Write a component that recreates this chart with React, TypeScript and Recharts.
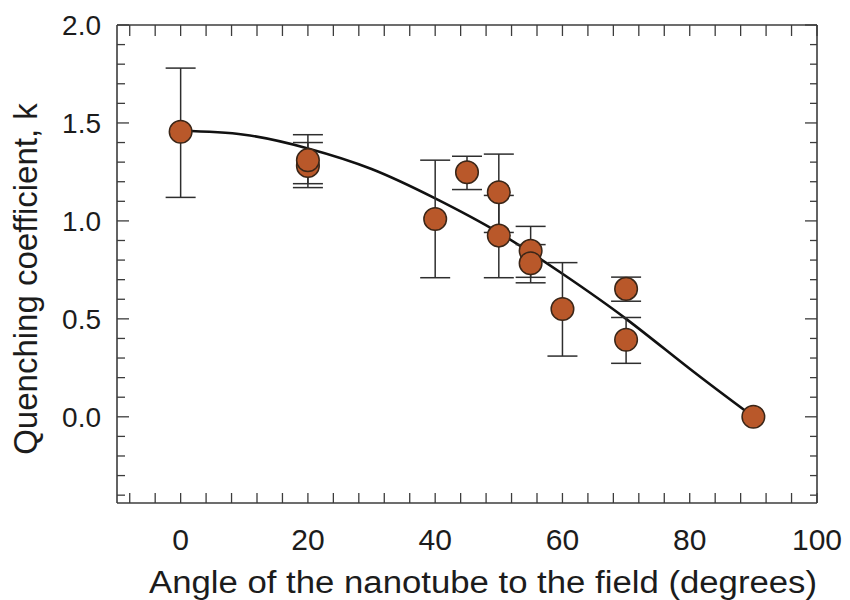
import { ComposedChart, Line, Scatter, ErrorBar, XAxis, YAxis } from "recharts";

// measured points (angle in degrees, quenching coefficient k, error bar extents)
const angles = [0, 20, 20, 40, 45, 50, 50, 55, 55, 60, 70, 70, 90];
const kValues = [1.455, 1.28, 1.31, 1.01, 1.248, 0.925, 1.146, 0.847, 0.784, 0.55, 0.653, 0.393, 0.0];
const errLow = [0.335, 0.11, 0.12, 0.3, 0.088, 0.215, 0.205, 0.135, 0.1, 0.24, 0.063, 0.12, 0];
const errHigh = [0.325, 0.12, 0.13, 0.3, 0.082, 0.205, 0.195, 0.125, 0.095, 0.237, 0.06, 0.114, 0];
// overlapping points that were plotted last (sit on top of their neighbour)
const onTop = [false, false, true, false, false, false, true, false, true, false, false, false, false];

// fitted curve
const fitAngles = [0, 10, 20, 30, 40, 50, 60, 70, 80, 90];
const fitK = [1.46, 1.44, 1.37, 1.265, 1.115, 0.94, 0.73, 0.5, 0.245, 0];

const xTicks = [-8, -4, 0, 4, 8, 12, 16, 20, 24, 28, 32, 36, 40, 44, 48, 52, 56, 60, 64, 68, 72, 76, 80, 84, 88, 92, 96, 100];
const xLabels = [0, 20, 40, 60, 80, 100];
const yTicks = [-0.4, -0.3, -0.2, -0.1, 0, 0.1, 0.2, 0.3, 0.4, 0.5, 0.6, 0.7, 0.8, 0.9, 1.0, 1.1, 1.2, 1.3, 1.4, 1.5, 1.6, 1.7, 1.8, 1.9, 2.0];
const yLabels = [0, 0.5, 1.0, 1.5, 2.0];

const FONT = '"Liberation Sans", Arial, Helvetica, sans-serif';
const INK = "#1c1c1c";
const FRAME = "#3c3c3c";
const DOT_FILL = "#b9582a";
const DOT_EDGE = "#3a2618";

const points = angles.map((a, i) => ({
    angle: a,
    k: kValues[i],
    err: errHigh[i] > 0 ? [errLow[i], errHigh[i]] : undefined,
    top: onTop[i],
}));
const backPoints = points.filter((p) => !p.top);
const frontPoints = points.filter((p) => p.top);
const fit = fitAngles.map((a, i) => ({ angle: a, k: fitK[i] }));

const isMajorY = (v: number) => yLabels.some((l) => Math.abs(l - v) < 1e-6);

function BottomTick({ x, y, payload }: any) {
    const v = payload.value;
    return (
        <g>
            <line x1={x} y1={y} x2={x} y2={y - 10} stroke={FRAME} strokeWidth={1.3} />
            {xLabels.includes(v) && (
                <text x={x} y={y + 47} textAnchor="middle" fontSize={30} fontFamily={FONT} fill={INK}>
                    {v}
                </text>
            )}
        </g>
    );
}

function TopTick({ x, y }: any) {
    return <line x1={x} y1={y} x2={x} y2={y + 11} stroke={FRAME} strokeWidth={1.3} />;
}

function LeftTick({ x, y, payload }: any) {
    const v = payload.value;
    const major = isMajorY(v);
    return (
        <g>
            <line x1={x} y1={y} x2={x + (major ? 12 : 8)} y2={y} stroke={FRAME} strokeWidth={1.3} />
            {major && (
                <text x={x - 16} y={y} dy={10} textAnchor="end" fontSize={28} fontFamily={FONT} fill={INK}>
                    {v.toFixed(1)}
                </text>
            )}
        </g>
    );
}

function RightTick({ x, y, payload }: any) {
    const major = isMajorY(payload.value);
    return <line x1={x} y1={y} x2={x - (major ? 12 : 7)} y2={y} stroke={FRAME} strokeWidth={1.3} />;
}

// the printed x title is a little wider than its glyph height suggests
function XTitle({ viewBox }: any) {
    const cx = viewBox.x + viewBox.width / 2 + 16;
    return (
        <text
            x={cx}
            y={viewBox.y + 90}
            textAnchor="middle"
            fontSize={31}
            fontFamily={FONT}
            fill={INK}
            textLength={668}
            lengthAdjust="spacingAndGlyphs"
        >
            Angle of the nanotube to the field (degrees)
        </text>
    );
}

function YTitle({ viewBox }: any) {
    const cy = viewBox.y + viewBox.height / 2;
    return (
        <text
            transform={`translate(${viewBox.x + viewBox.width - 80}, ${cy + 15}) rotate(-90)`}
            textAnchor="middle"
            fontSize={33}
            fontFamily={FONT}
            fill={INK}
        >
            Quenching coefficient, k
        </text>
    );
}

const Dot = (p: any) => (
    <circle cx={p.cx} cy={p.cy} r={11.3} fill={DOT_FILL} stroke={DOT_EDGE} strokeWidth={1.5} />
);
const NoDot = () => <g />;

const bar = (
    <ErrorBar dataKey="err" direction="y" width={15} stroke="#2e2e2e" strokeWidth={1.5} isAnimationActive={false} />
);

export default function App() {
    return (
        <div style={{ position: "fixed", left: 0, top: 0, width: 850, height: 600, background: "#fff" }}>
            <ComposedChart width={850} height={600} margin={{ top: 24, right: 32, bottom: 96, left: 116 }}>
                <XAxis
                    dataKey="angle"
                    type="number"
                    domain={[-10, 100]}
                    ticks={xTicks}
                    interval={0}
                    height={1}
                    tickSize={0}
                    tickMargin={0}
                    tickLine={false}
                    tick={<BottomTick />}
                    axisLine={{ stroke: FRAME, strokeWidth: 1.6 }}
                    allowDataOverflow
                    label={<XTitle />}
                />
                <XAxis
                    xAxisId="top"
                    orientation="top"
                    dataKey="angle"
                    type="number"
                    domain={[-10, 100]}
                    ticks={xTicks}
                    interval={0}
                    height={1}
                    tickSize={0}
                    tickMargin={0}
                    tickLine={false}
                    tick={<TopTick />}
                    axisLine={{ stroke: FRAME, strokeWidth: 1.6 }}
                    allowDataOverflow
                />
                <YAxis
                    type="number"
                    domain={[-0.44, 2.0]}
                    ticks={yTicks}
                    interval={0}
                    width={1}
                    tickSize={0}
                    tickMargin={0}
                    tickLine={false}
                    tick={<LeftTick />}
                    axisLine={{ stroke: FRAME, strokeWidth: 1.6 }}
                    allowDataOverflow
                    label={<YTitle />}
                />
                <YAxis
                    yAxisId="right"
                    orientation="right"
                    type="number"
                    domain={[-0.44, 2.0]}
                    ticks={yTicks}
                    interval={0}
                    width={1}
                    tickSize={0}
                    tickMargin={0}
                    tickLine={false}
                    tick={<RightTick />}
                    axisLine={{ stroke: FRAME, strokeWidth: 1.6 }}
                    allowDataOverflow
                />
                <Line
                    data={fit}
                    dataKey="k"
                    type="natural"
                    stroke="#111"
                    strokeWidth={2.6}
                    dot={false}
                    activeDot={false}
                    isAnimationActive={false}
                />
                <Scatter data={backPoints} dataKey="k" shape={NoDot} isAnimationActive={false}>
                    {bar}
                </Scatter>
                <Scatter data={backPoints} dataKey="k" shape={Dot} isAnimationActive={false} />
                <Scatter data={frontPoints} dataKey="k" shape={NoDot} isAnimationActive={false}>
                    {bar}
                </Scatter>
                <Scatter data={frontPoints} dataKey="k" shape={Dot} isAnimationActive={false} />
            </ComposedChart>
        </div>
    );
}
